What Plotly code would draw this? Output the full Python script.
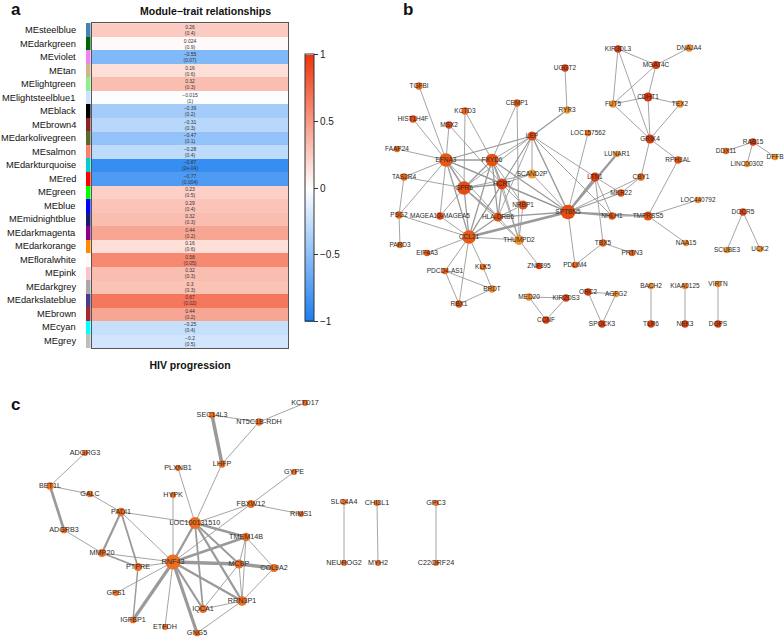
import plotly.graph_objects as go

W, H = 784, 641

# ---------------- Panel a data ----------------
modules = ["MEsteelblue", "MEdarkgreen", "MEviolet", "MEtan", "MElightgreen",
           "MElightsteelblue1", "MEblack", "MEbrown4", "MEdarkolivegreen", "MEsalmon",
           "MEdarkturquoise", "MEred", "MEgreen", "MEblue", "MEmidnightblue",
           "MEdarkmagenta", "MEdarkorange", "MEfloralwhite", "MEpink", "MEdarkgrey",
           "MEdarkslateblue", "MEbrown", "MEcyan", "MEgrey"]
module_colors = ["#4682B4", "#006400", "#EE82EE", "#D2B48C", "#90EE90",
                 "#CAE1FF", "#000000", "#8B2323", "#556B2F", "#FA8072",
                 "#00CED1", "#FF0000", "#00FF00", "#0000FF", "#191970",
                 "#8B008B", "#FF8C00", "#FFFAF0", "#FFC0CB", "#A9A9A9",
                 "#483D8B", "#A52A2A", "#00FFFF", "#BEBEBE"]
cor = [0.26, 0.024, -0.55, 0.16, 0.32, -0.015, -0.39, -0.31, -0.47, -0.28,
       -0.87, -0.77, 0.23, 0.29, 0.32, 0.44, 0.16, 0.58, 0.32, 0.3,
       0.67, 0.44, -0.25, -0.2]
pval = ["0.4", "0.9", "0.07", "0.6", "0.3", "1", "0.2", "0.3", "0.1", "0.4",
        "2e-04", "0.004", "0.5", "0.4", "0.3", "0.2", "0.6", "0.05", "0.3", "0.3",
        "0.02", "0.2", "0.4", "0.5"]
trait = ["HIV progression"]
cbar_ticks = [-1, -0.5, 0, 0.5, 1]

# ---------------- Panel b data (network) ----------------
b_nodes = ["UGGT2", "TGFBI", "RYR3", "CEMP1", "KCTD3", "HIST1H4F", "MSX2", "LEP",
           "LOC157562", "FAAP24", "EFNA3", "FXYD6", "KIR3DL3", "DNAJA4", "MGAT4C",
           "CDHT1", "FUT5", "TEX2", "GRIK4", "LUNAR1", "RPH3AL", "RAB15", "DDX11",
           "DFFB", "LINC00302", "TAS2R4", "SCAND2P", "GPR6", "HCRT", "NRBP1",
           "SPTBN5", "PSG2", "MAGEA10-MAGEA5", "HLA-DRB6", "CCL21", "THUMPD2",
           "PARD3", "EIF4A3", "PDCD4-AS1", "KLK5", "ZNF395", "PDLIM4", "BRDT",
           "RBX1", "MED20", "KIR2DS3", "CCNF", "LTN1", "CBY1", "MKR22", "NHLH1",
           "TMPRSS5", "LOC440792", "NAA15", "DOCR5", "SCUBE3", "UCK2", "TBX5",
           "PRTN3", "ORC2", "AGFG2", "SPOCK3", "BACH2", "TLR6", "KIAA0125", "NEK3",
           "VIRTN", "DGPS"]
# network layout coordinates (layout units)
b_lx = [565, 419, 567, 517, 465, 413, 449, 532, 588, 397, 446, 492, 618, 689, 656,
        648, 613, 680, 650, 617, 678, 753, 726, 775, 747, 404, 532, 464, 502, 523,
        568, 399, 440, 498, 469, 519, 400, 427, 445, 483, 539, 575, 492, 459, 529,
        566, 546, 595, 641, 621, 612, 648, 698, 686, 743, 727, 760, 603, 632, 588,
        616, 602, 651, 651, 685, 685, 718, 718]
b_ly = [68, 86, 110, 103, 111, 119, 125, 136, 133, 149, 160, 160, 49, 48, 65,
        97, 104, 104, 139, 154, 160, 142, 151, 157, 164, 177, 174, 188, 184, 205,
        212, 215, 216, 217, 237, 240, 245, 253, 271, 267, 266, 265, 289, 304, 297,
        298, 320, 177, 177, 193, 216, 216, 200, 243, 212, 250, 249, 243, 253, 292,
        294, 324, 286, 324, 286, 324, 284, 324]
# node degree-like score (size) and module score (colour)
b_deg = [2, 2, 2, 2, 2, 2, 2, 4, 1, 1, 9, 8, 2, 2, 3,
         4, 2, 2, 4, 1, 2, 2, 1, 1, 1, 2, 4, 9, 6, 4,
         10, 2, 2, 4, 9, 5, 1, 1, 1, 1, 1, 1, 2, 2, 2,
         2, 2, 4, 2, 2, 2, 4, 1, 1, 2, 1, 1, 2, 1, 2,
         1, 2, 1, 2, 1, 2, 1, 2]
b_val = [0.9, 0.5, 0.1, 0.6, 0.55, 0.75, 0.8, 0.75, 0.45, 0.5, 0.65, 0.7, 0.9, 0.3, 0.9,
         0.95, 0.15, 0.2, 0.9, 0.1, 0.7, 0.9, 0.5, 0.15, 0.15, 0.5, 0.05, 0.75, 0.85, 0.7,
         0.75, 0.55, 0.85, 0.75, 0.65, 0.1, 0.5, 0.7, 0.55, 0.5, 0.9, 0.55, 0.2, 0.7, 0.15,
         0.9, 0.9, 0.9, 0.55, 0.75, 0.7, 0.7, 0.2, 0.15, 0.85, 0.15, 0.15, 0.55, 0.65, 0.9,
         0.15, 0.9, 0.2, 0.9, 0.2, 0.9, 0.2, 0.9]
b_edges = [
    ("UGGT2", "RYR3", 1), ("RYR3", "LEP", 1.4), ("TGFBI", "EFNA3", 1), ("HIST1H4F", "EFNA3", 1),
    ("FAAP24", "EFNA3", 1), ("KCTD3", "GPR6", 1), ("KCTD3", "FXYD6", 1), ("MSX2", "HCRT", 1),
    ("MSX2", "EFNA3", 1), ("CEMP1", "FXYD6", 1), ("CEMP1", "THUMPD2", 1), ("LEP", "EFNA3", 1.4),
    ("LEP", "FXYD6", 1), ("LEP", "GPR6", 1), ("LEP", "HCRT", 1), ("LEP", "SPTBN5", 1.6),
    ("LEP", "HLA-DRB6", 1), ("LEP", "CCL21", 1), ("LEP", "SCAND2P", 1), ("LEP", "LTN1", 1),
    ("LEP", "NHLH1", 1), ("LOC157562", "SPTBN5", 1), ("LUNAR1", "SPTBN5", 2.4),
    ("KIR3DL3", "MGAT4C", 1), ("KIR3DL3", "FUT5", 1), ("KIR3DL3", "GRIK4", 1), ("DNAJA4", "MGAT4C", 1),
    ("MGAT4C", "FUT5", 1), ("MGAT4C", "CDHT1", 1), ("CDHT1", "FUT5", 1), ("CDHT1", "TEX2", 1),
    ("CDHT1", "GRIK4", 1), ("FUT5", "GRIK4", 1), ("TEX2", "GRIK4", 1), ("GRIK4", "RPH3AL", 1),
    ("GRIK4", "CBY1", 1), ("RPH3AL", "TMPRSS5", 1), ("RAB15", "DDX11", 1), ("RAB15", "DFFB", 1),
    ("RAB15", "LINC00302", 1), ("TAS2R4", "EFNA3", 1), ("TAS2R4", "PSG2", 1), ("TAS2R4", "GPR6", 1),
    ("PSG2", "PARD3", 1), ("PSG2", "EFNA3", 1), ("PSG2", "CCL21", 1), ("SCAND2P", "GPR6", 1),
    ("SCAND2P", "HCRT", 1), ("SCAND2P", "SPTBN5", 1), ("GPR6", "EFNA3", 1.6), ("GPR6", "HCRT", 1.6),
    ("GPR6", "FXYD6", 1.4), ("GPR6", "CCL21", 1.4), ("GPR6", "HLA-DRB6", 1.4), ("GPR6", "THUMPD2", 1),
    ("GPR6", "MAGEA10-MAGEA5", 1), ("HCRT", "EFNA3", 1.4), ("HCRT", "FXYD6", 1.4), ("HCRT", "CCL21", 1.4),
    ("HCRT", "NRBP1", 1), ("HCRT", "HLA-DRB6", 1.4), ("HCRT", "THUMPD2", 1), ("HCRT", "SPTBN5", 1.4),
    ("SPTBN5", "CCL21", 3), ("SPTBN5", "HLA-DRB6", 1.4), ("SPTBN5", "LTN1", 1.6), ("SPTBN5", "MKR22", 1.4),
    ("SPTBN5", "NHLH1", 1.4), ("SPTBN5", "TMPRSS5", 1.4), ("SPTBN5", "PDLIM4", 1), ("SPTBN5", "FXYD6", 1.4),
    ("SPTBN5", "EFNA3", 1.4), ("SPTBN5", "CBY1", 1), ("CCL21", "EIF4A3", 1), ("CCL21", "PDCD4-AS1", 1),
    ("CCL21", "KLK5", 1), ("CCL21", "RBX1", 1), ("CCL21", "THUMPD2", 1), ("CCL21", "MAGEA10-MAGEA5", 1),
    ("CCL21", "EFNA3", 1.4), ("CCL21", "FXYD6", 1.4), ("CCL21", "HLA-DRB6", 1.4), ("KLK5", "BRDT", 1),
    ("PDCD4-AS1", "BRDT", 1), ("PDCD4-AS1", "RBX1", 1), ("RBX1", "BRDT", 1), ("THUMPD2", "ZNF395", 1),
    ("THUMPD2", "NRBP1", 1), ("THUMPD2", "HLA-DRB6", 1), ("THUMPD2", "FXYD6", 1), ("MED20", "KIR2DS3", 1),
    ("MED20", "CCNF", 1), ("KIR2DS3", "CCNF", 1), ("ORC2", "AGFG2", 1), ("ORC2", "SPOCK3", 1),
    ("AGFG2", "SPOCK3", 1), ("LTN1", "TBX5", 1), ("TBX5", "PRTN3", 1), ("TBX5", "PDLIM4", 1),
    ("LTN1", "MKR22", 1), ("LTN1", "NHLH1", 1), ("TMPRSS5", "LOC440792", 1), ("TMPRSS5", "NAA15", 1),
    ("TMPRSS5", "NHLH1", 1), ("DOCR5", "SCUBE3", 1), ("DOCR5", "UCK2", 1), ("BACH2", "TLR6", 1),
    ("KIAA0125", "NEK3", 1), ("VIRTN", "DGPS", 1), ("EFNA3", "FXYD6", 1.4), ("EFNA3", "MAGEA10-MAGEA5", 1),
    ("EFNA3", "HLA-DRB6", 1), ("FXYD6", "HLA-DRB6", 1.4), ("FXYD6", "NRBP1", 1), ("HLA-DRB6", "NRBP1", 1),
    ("CBY1", "MKR22", 1),
]

# ---------------- Panel c data (network) ----------------
c_nodes = ["ADGRG3", "PLXNB1", "BET1L", "GALC", "HYPK", "PADI1", "LOC100131510", "ADGRB3",
           "MMP20", "RNF43", "PTPRE", "GPS1", "IGFBP1", "ETFDH", "GNG5", "KCTD17",
           "SEC14L3", "NT5C1B-RDH", "LHFP", "GYPE", "FBXW12", "RIMS1", "TMEM14B", "MCBP",
           "COL9A2", "RRN3P1", "IQCA1", "SLC4A4", "NEUROG2", "CHI3L1", "MYH2", "GPC3",
           "C22ORF24"]
c_lx = [85, 178, 50, 90, 173, 121, 195, 64, 102, 173, 138, 116, 133, 165, 197, 305,
        212, 259, 222, 294, 251, 301, 246, 239, 274, 242, 203, 344, 344, 377, 378, 436, 436]
c_ly = [453, 468, 486, 494, 495, 512, 523, 530, 553, 562, 567, 593, 620, 627, 633, 403,
        415, 422, 464, 472, 504, 514, 537, 564, 568, 601, 609, 502, 563, 503, 563, 503, 563]
c_deg = [1, 1, 3, 2, 1, 5, 11, 2, 4, 16, 4, 1, 2, 1, 2, 1,
         2, 3, 3, 1, 4, 1, 5, 6, 4, 7, 4, 1, 1, 1, 1, 1, 1]
c_edges = [
    ("ADGRG3", "BET1L", 1), ("BET1L", "GALC", 1), ("BET1L", "ADGRB3", 3), ("GALC", "PADI1", 1),
    ("ADGRB3", "MMP20", 1), ("PADI1", "MMP20", 2.4), ("PADI1", "PTPRE", 2), ("PADI1", "LOC100131510", 1),
    ("PADI1", "RNF43", 1), ("MMP20", "PTPRE", 2), ("MMP20", "RNF43", 1), ("PTPRE", "RNF43", 1),
    ("PTPRE", "IGFBP1", 1.6), ("GPS1", "RNF43", 1), ("IGFBP1", "RNF43", 3.5), ("ETFDH", "RNF43", 1),
    ("GNG5", "RNF43", 3.5), ("HYPK", "RNF43", 1), ("PLXNB1", "LOC100131510", 1),
    ("LOC100131510", "LHFP", 1), ("LOC100131510", "FBXW12", 1), ("LOC100131510", "TMEM14B", 3),
    ("LOC100131510", "MCBP", 2), ("LOC100131510", "RRN3P1", 2.6), ("LOC100131510", "IQCA1", 2),
    ("LOC100131510", "RNF43", 2.6), ("SEC14L3", "LHFP", 4), ("SEC14L3", "NT5C1B-RDH", 1),
    ("NT5C1B-RDH", "KCTD17", 1), ("NT5C1B-RDH", "LHFP", 1), ("GYPE", "FBXW12", 1),
    ("FBXW12", "RNF43", 1), ("FBXW12", "RIMS1", 1), ("RNF43", "TMEM14B", 3.2), ("RNF43", "MCBP", 4),
    ("MCBP", "COL9A2", 4), ("RNF43", "RRN3P1", 2.6), ("RNF43", "IQCA1", 2.4), ("TMEM14B", "MCBP", 1),
    ("TMEM14B", "COL9A2", 1), ("TMEM14B", "RRN3P1", 1), ("MCBP", "RRN3P1", 1), ("MCBP", "IQCA1", 1),
    ("COL9A2", "RRN3P1", 1), ("RRN3P1", "IQCA1", 1), ("RRN3P1", "GNG5", 1),
    ("SLC4A4", "NEUROG2", 1), ("CHI3L1", "MYH2", 1), ("GPC3", "C22ORF24", 1),
]

FONT = "Liberation Sans, Arial, sans-serif"

fig = go.Figure()


def fmt(v):
    return f"{v:g}".replace("-", "\u2212")


# ---- heatmap ----
cell_text = [[f"{fmt(c)}<br>({p})"] for c, p in zip(cor, pval)]
fig.add_trace(go.Heatmap(
    z=[[c] for c in cor], x=trait, y=modules, text=cell_text,
    texttemplate="%{text}", textfont=dict(size=5, color="#333333", family=FONT),
    zmin=-1, zmax=1,
    colorscale=[[0, "rgb(25,125,240)"], [0.5, "rgb(255,255,255)"], [1, "rgb(240,52,12)"]],
    colorbar=dict(x=295 / W, xanchor="left", y=1 - 188 / H, yanchor="middle",
                  len=287, lenmode="pixels", thickness=9, outlinewidth=1, outlinecolor="#333",
                  tickvals=cbar_ticks, ticktext=[fmt(t) for t in cbar_ticks],
                  ticks="outside", ticklen=4, tickcolor="#333",
                  tickfont=dict(size=10, color="#222", family=FONT)),
    xaxis="x", yaxis="y", hoverinfo="skip"))

# ---- module colour strip ----
fig.add_trace(go.Bar(x=[1] * len(modules), y=modules, orientation="h", marker_color=module_colors,
                     marker_line_width=0, width=1, xaxis="x2", yaxis="y", showlegend=False,
                     hoverinfo="skip"))


# ---- networks ----
def add_network(names, lx, ly, edges, sizes, colors, cmap, fsize):
    pos = {n: (x, y) for n, x, y in zip(names, lx, ly)}
    widths = sorted(set(e[2] for e in edges))
    for w in widths:
        xs, ys = [], []
        for a, b, ww in edges:
            if ww == w:
                xs += [pos[a][0], pos[b][0], None]
                ys += [pos[a][1], pos[b][1], None]
        fig.add_trace(go.Scatter(x=xs, y=ys, mode="lines", line=dict(color="#9a9a9a", width=w * 0.9),
                                 xaxis="x3", yaxis="y3", showlegend=False, hoverinfo="skip"))
    fig.add_trace(go.Scatter(
        x=lx, y=ly, mode="markers+text", text=names, textposition="middle center",
        textfont=dict(size=fsize, color="#2a2a2a", family=FONT),
        marker=dict(size=sizes, color=colors, colorscale=cmap, cmin=0, cmax=1, line_width=0,
                    opacity=1),
        xaxis="x3", yaxis="y3", showlegend=False, hoverinfo="text"))


b_sizes = [5.5 + 0.9 * d for d in b_deg]
add_network(b_nodes, b_lx, b_ly, b_edges, b_sizes, b_val,
            [[0, "#F7A035"], [0.5, "#EE6A18"], [1, "#D8300A"]], 6.5)
c_sizes = [5.5 + 0.6 * d for d in c_deg]
add_network(c_nodes, c_lx, c_ly, c_edges, c_sizes, [0.55] * len(c_nodes),
            [[0, "#F7A035"], [0.5, "#F27422"], [1, "#D8300A"]], 7.2)

ann = [
    dict(text="<b>a</b>", x=16 / W, y=1 - 10 / H),
    dict(text="<b>b</b>", x=408 / W, y=1 - 9 / H),
    dict(text="<b>c</b>", x=16 / W, y=1 - 404 / H),
]
annotations = [dict(a, xref="paper", yref="paper", showarrow=False, xanchor="center", yanchor="middle",
                    font=dict(size=17, color="#111", family=FONT)) for a in ann]
annotations.append(dict(text="<b>Module\u2212trait relationships</b>", x=205 / W, y=1 - 11 / H,
                        xref="paper", yref="paper", showarrow=False, xanchor="center", yanchor="middle",
                        font=dict(size=10.5, color="#111", family=FONT)))
# module row labels (the longest one is pushed in against the left edge, as in the original)
for m in modules:
    long = len(m) > 16
    annotations.append(dict(text=m, x=(0 if long else 78) / W, xanchor="left" if long else "right",
                            y=m, xref="paper", yref="y", yanchor="middle", showarrow=False,
                            font=dict(size=9.3, color="#111", family=FONT)))

fig.update_layout(
    width=W, height=H, margin=dict(l=0, r=0, t=0, b=0, autoexpand=False),
    paper_bgcolor="white", plot_bgcolor="rgba(0,0,0,0)",
    font=dict(family=FONT),
    annotations=annotations,
    bargap=0,
    xaxis=dict(domain=[92 / W, 288 / W], anchor="y", showline=True, mirror=True, linecolor="#555",
               linewidth=1, tickvals=trait, ticktext=["<b>HIV progression</b>"], ticks="",
               ticklabelstandoff=7, tickfont=dict(size=10.5, color="#111", family=FONT),
               fixedrange=True, showgrid=False, zeroline=False, automargin=False),
    yaxis=dict(domain=[1 - 348 / H, 1 - 23 / H], anchor="x", autorange="reversed", showline=True,
               mirror=True, linecolor="#555", linewidth=1, ticks="", showticklabels=False,
               showgrid=False, zeroline=False, automargin=False),
    xaxis2=dict(domain=[86 / W, 90.5 / W], anchor="y", range=[0, 1], visible=False, fixedrange=True),
    xaxis3=dict(domain=[0, 1], anchor="y3", range=[0, W], visible=False, fixedrange=True),
    yaxis3=dict(domain=[0, 1], anchor="x3", range=[H, 0], visible=False, fixedrange=True),
)

fig.write_html("out.html", config={"displayModeBar": False},
               post_script="document.body.style.margin='0';document.body.style.overflow='hidden';")
